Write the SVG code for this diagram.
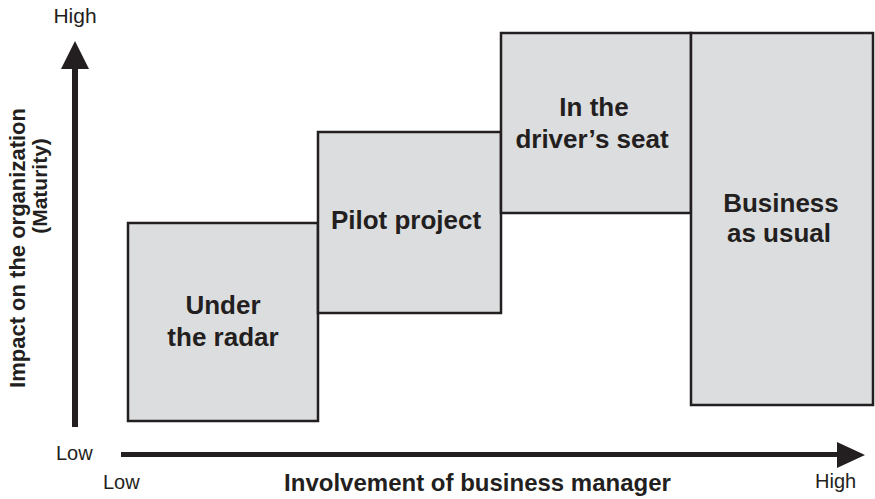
<svg xmlns="http://www.w3.org/2000/svg" width="875" height="499" viewBox="0 0 875 499">
<style>
.box{fill:#dcdddf;stroke:#231f20;stroke-width:2.5}
.bl{font-family:"Liberation Sans",Arial,sans-serif;font-weight:bold;font-size:26px;fill:#231f20;text-anchor:middle}
.ax{font-family:"Liberation Sans",Arial,sans-serif;font-size:20px;fill:#231f20}
.axb{font-family:"Liberation Sans",Arial,sans-serif;font-weight:bold;font-size:22px;fill:#231f20;text-anchor:middle}
.axis{stroke:#231f20;fill:none}
.head{fill:#231f20}
</style>
<rect width="875" height="499" fill="#fff"/>
<g id="connectors">
<line class="axis" x1="75" y1="68" x2="75" y2="427" stroke-width="6"/>
<polygon class="head" points="61,69 75,41 89,69"/>
<line class="axis" x1="121" y1="454.5" x2="838" y2="454.5" stroke-width="5"/>
<polygon class="head" points="837,442 865,455 837,468"/>
</g>
<g id="under-the-radar">
<rect class="box" x="128" y="223" width="190" height="198"/>
<text class="bl" x="223" y="314">Under</text>
<text class="bl" x="223" y="346">the radar</text>
</g>
<g id="pilot-project">
<rect class="box" x="318" y="132" width="183" height="181"/>
<text class="bl" x="406" y="229">Pilot project</text>
</g>
<g id="drivers-seat">
<rect class="box" x="501" y="33" width="190" height="180"/>
<text class="bl" x="594" y="116">In the</text>
<text class="bl" x="592" y="148">driver’s seat</text>
</g>
<g id="business-as-usual">
<rect class="box" x="691" y="33" width="182" height="372"/>
<text class="bl" x="781" y="212">Business</text>
<text class="bl" x="779" y="242">as usual</text>
</g>
<g id="labels">
<text class="ax" x="75" y="23" text-anchor="middle" style="font-size:21px">High</text>
<text class="ax" x="56" y="460">Low</text>
<text class="ax" x="103" y="489">Low</text>
<text class="ax" x="815" y="488">High</text>
<text class="axb" x="477.5" y="491" style="font-size:24px">Involvement of business manager</text>
<text class="axb" transform="translate(25,248) rotate(-90)">Impact on the organization</text>
<text class="axb" style="font-size:21px" transform="translate(47,186) rotate(-90)">(Maturity)</text>
</g>
</svg>
